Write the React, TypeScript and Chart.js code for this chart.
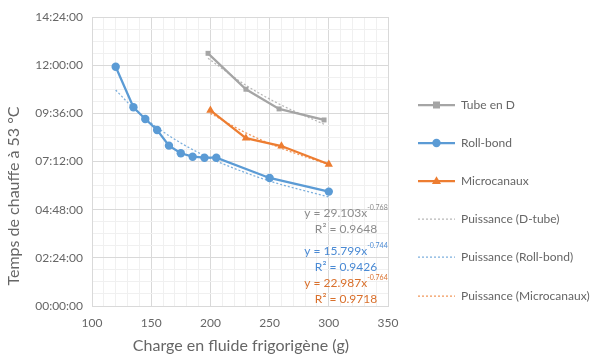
import React, { useEffect, useRef } from "react";
import { Chart, registerables } from "chart.js";
Chart.register(...registerables);

// Data (x in g, y in hours)
const tubeX = [198, 230, 258, 296];
const tubeY = [12.59, 10.8, 9.82, 9.27];
const rollX = [120, 135, 145, 155, 165, 175, 185, 195, 205, 250, 300];
const rollY = [11.92, 9.9, 9.32, 8.77, 7.99, 7.61, 7.44, 7.39, 7.39, 6.38, 5.7];
const microX = [200, 230, 260, 300];
const microY = [9.75, 8.36, 7.97, 7.06];

const seriesNames = ["Tube en D", "Roll-bond", "Microcanaux"];
const trendNames = ["Puissance (D-tube)", "Puissance (Roll-bond)", "Puissance (Microcanaux)"];
const eqMain = ["y = 29.103x", "y = 15.799x", "y = 22.987x"];
const eqExp = ["-0.768", "-0.744", "-0.764"];
const eqR2 = ["R² = 0.9648", "R² = 0.9426", "R² = 0.9718"];

const xTitle = "Charge en fluide frigorigène (g)";
const yTitle = "Temps de chauffe à 53 °C";

const COLORS = ["#a5a5a5", "#5b9bd5", "#ed7d31"];
const TEXT_COLORS = ["#8c8c8c", "#4a8ad4", "#d9702c"];
const TREND_COLORS = ["rgba(165,165,165,0.8)", "rgba(91,155,213,0.8)", "rgba(237,125,49,0.8)"];
const MARKERS = ["rect", "circle", "triangle"];
const MARKER_R = [3.5, 4.2, 4.8];
const FONT = "Lato, 'Open Sans', sans-serif";
const TXT = "#666666";

function toPts(xs: number[], ys: number[]) {
  return xs.map((x, i) => ({ x, y: ys[i] }));
}

function powerFit(xs: number[], ys: number[]) {
  const n = xs.length;
  let sx = 0, sy = 0, sxx = 0, sxy = 0;
  for (let i = 0; i < n; i++) {
    const lx = Math.log(xs[i]);
    const ly = Math.log(ys[i]);
    sx += lx; sy += ly; sxx += lx * lx; sxy += lx * ly;
  }
  const b = (n * sxy - sx * sy) / (n * sxx - sx * sx);
  const la = (sy - b * sx) / n;
  return xs.map((x) => ({ x, y: Math.exp(la) * Math.pow(x, b) }));
}

function fmtHours(v: number) {
  const m = Math.round(v * 60);
  const h = Math.floor(m / 60);
  const mm = m % 60;
  const p = (n: number) => (n < 10 ? "0" + n : "" + n);
  return p(h) + ":" + p(mm) + ":00";
}

const isMult = (v: number, s: number) => Math.abs(v / s - Math.round(v / s)) < 1e-6;

const overlay = {
  id: "overlay",
  afterDraw(chart: any) {
    const ctx = chart.ctx as CanvasRenderingContext2D;
    ctx.save();
    // Legend
    const ys = [105, 143, 181, 219, 257, 296];
    const x0 = 418, x1 = 455, tx = 461;
    ctx.font = `12px ${FONT}`;
    ctx.textBaseline = "middle";
    ctx.textAlign = "left";
    for (let i = 0; i < 6; i++) {
      const y = ys[i];
      const k = i % 3;
      ctx.beginPath();
      if (i < 3) {
        ctx.strokeStyle = COLORS[k];
        ctx.lineWidth = 2.25;
        ctx.setLineDash([]);
      } else {
        ctx.strokeStyle = TREND_COLORS[k];
        ctx.lineWidth = 1.25;
        ctx.setLineDash([2, 2]);
      }
      ctx.moveTo(x0, y);
      ctx.lineTo(x1, y);
      ctx.stroke();
      ctx.setLineDash([]);
      if (i < 3) {
        ctx.fillStyle = COLORS[k];
        const cx = (x0 + x1) / 2;
        const r = MARKER_R[k];
        ctx.beginPath();
        if (k === 0) {
          ctx.rect(cx - r, y - r, 2 * r, 2 * r);
        } else if (k === 1) {
          ctx.arc(cx, y, r, 0, Math.PI * 2);
        } else {
          ctx.moveTo(cx, y - r);
          ctx.lineTo(cx + r * 0.95, y + r * 0.6);
          ctx.lineTo(cx - r * 0.95, y + r * 0.6);
          ctx.closePath();
        }
        ctx.fill();
      }
      ctx.fillStyle = TXT;
      ctx.fillText(i < 3 ? seriesNames[k] : trendNames[k], tx, y);
    }

    // Equations
    const eqY = [[213, 229], [251, 267], [283, 299]];
    const cx = 346;
    for (let k = 0; k < 3; k++) {
      ctx.fillStyle = TEXT_COLORS[k];
      ctx.font = `12px ${FONT}`;
      const wMain = ctx.measureText(eqMain[k]).width;
      ctx.font = `7px ${FONT}`;
      const wExp = ctx.measureText(eqExp[k]).width;
      const total = wMain + wExp;
      const left = cx - total / 2;
      ctx.textAlign = "left";
      ctx.textBaseline = "middle";
      ctx.font = `12px ${FONT}`;
      ctx.fillText(eqMain[k], left, eqY[k][0]);
      ctx.font = `7px ${FONT}`;
      ctx.fillText(eqExp[k], left + wMain, eqY[k][0] - 5);
      ctx.font = `12px ${FONT}`;
      ctx.textAlign = "center";
      ctx.fillText(eqR2[k], cx, eqY[k][1]);
    }

    // Axis titles
    ctx.fillStyle = TXT;
    ctx.font = `16px ${FONT}`;
    ctx.textAlign = "center";
    ctx.textBaseline = "middle";
    ctx.fillText(xTitle, 241, 346);
    ctx.translate(14, 196);
    ctx.rotate(-Math.PI / 2);
    ctx.fillText(yTitle, 0, 0);
    ctx.restore();
  },
};

export default function App() {
  const ref = useRef<HTMLCanvasElement>(null);
  useEffect(() => {
    if (!ref.current) return;
    const mk = (k: number, xs: number[], ys: number[]) => ({
      label: seriesNames[k],
      data: toPts(xs, ys),
      borderColor: COLORS[k],
      backgroundColor: COLORS[k],
      borderWidth: 2.25,
      pointStyle: MARKERS[k],
      pointRadius: MARKER_R[k],
      pointBorderWidth: 0,
      showLine: true,
      tension: 0,
    });
    const tr = (k: number, xs: number[], ys: number[]) => ({
      label: trendNames[k],
      data: powerFit(xs, ys),
      borderColor: TREND_COLORS[k],
      backgroundColor: TREND_COLORS[k],
      borderWidth: 1.25,
      borderDash: [2, 2],
      pointRadius: 0,
      showLine: true,
      cubicInterpolationMode: "monotone",
    });
    const chart = new Chart(ref.current, {
      type: "scatter",
      data: {
        datasets: [
          tr(0, tubeX, tubeY),
          tr(1, rollX, rollY),
          tr(2, microX, microY),
          mk(0, tubeX, tubeY),
          mk(1, rollX, rollY),
          mk(2, microX, microY),
        ] as any,
      },
      options: {
        responsive: false,
        animation: false,
        layout: { padding: { top: 17, right: 212, left: 0, bottom: 0 } },
        plugins: { legend: { display: false }, tooltip: { enabled: false }, title: { display: false } },
        scales: {
          x: {
            type: "linear",
            min: 100,
            max: 350,
            afterFit: (s: any) => { s.height = 50; },
            border: { color: "#d9d9d9" },
            grid: {
              drawTicks: false,
              color: (c: any) => (isMult(c.tick.value, 50) ? "#d9d9d9" : "#f0f0f0"),
              lineWidth: 1,
            },
            ticks: {
              stepSize: 10,
              autoSkip: false,
              maxRotation: 0,
              padding: 10,
              color: TXT,
              font: { family: FONT, size: 12 },
              callback: (v: any) => (isMult(Number(v), 50) ? String(v) : ""),
            },
          },
          y: {
            type: "linear",
            min: 0,
            max: 14.4,
            afterFit: (s: any) => { s.width = 92; },
            border: { color: "#d9d9d9" },
            grid: {
              drawTicks: false,
              color: (c: any) => (isMult(c.tick.value, 2.4) ? "#d9d9d9" : "#f0f0f0"),
              lineWidth: 1,
            },
            ticks: {
              stepSize: 0.6,
              autoSkip: false,
              padding: 9,
              color: TXT,
              font: { family: FONT, size: 12 },
              callback: (v: any) => (isMult(Number(v), 2.4) ? fmtHours(Number(v)) : ""),
            },
          },
        },
      } as any,
      plugins: [overlay],
    });
    return () => chart.destroy();
  }, []);
  return (
    <div style={{ position: "absolute", left: 0, top: 0, width: 600, height: 356, background: "#fff" }}>
      <canvas ref={ref} width={600} height={356} style={{ width: 600, height: 356, display: "block" }} />
    </div>
  );
}
